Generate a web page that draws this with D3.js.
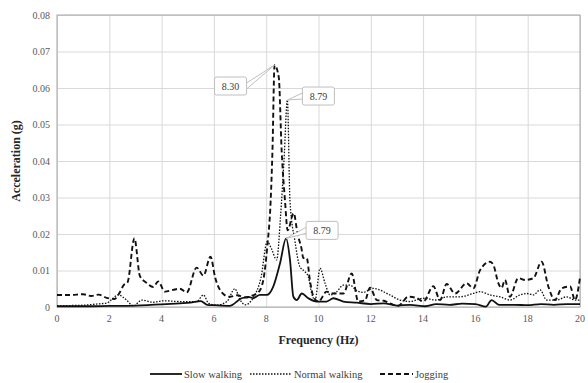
<!DOCTYPE html>
<html>
<head>
<meta charset="utf-8">
<script src="https://cdn.jsdelivr.net/npm/d3@7"></script>
<style>
  body { margin: 0; background: #fff; }
  svg text { font-family: "Liberation Serif", "DejaVu Serif", "Times New Roman", Times, serif; }
  .grid path { display: none; }
  .tick-label { font-size: 10px; fill: #595959; }
</style>
</head>
<body>
<svg id="chart" width="588" height="383"></svg>
<script>
// data
const xTicks = [0, 2, 4, 6, 8, 10, 12, 14, 16, 18, 20];
const yTicks = [0, 0.01, 0.02, 0.03, 0.04, 0.05, 0.06, 0.07, 0.08];
const seriesNames = ['Slow walking', 'Normal walking', 'Jogging'];

const slowFreq = [0, 1, 2, 3, 4, 4.7, 5.1, 5.5, 5.75, 6.0, 6.6, 7.06, 7.32, 7.5, 7.76, 8.02, 8.27, 8.53, 8.76, 8.91, 9.04, 9.17, 9.36, 9.61, 9.93, 10.31, 10.57, 10.95, 11.46, 12.0, 12.5, 13.0, 13.5, 14.1, 14.5, 15.0, 15.5, 16.0, 16.4, 16.62, 16.9, 17.5, 18.0, 18.5, 19.0, 19.5, 20.0];
const slowAcc = [0.0002, 0.0002, 0.0003, 0.0004, 0.0007, 0.0010, 0.0012, 0.0016, 0.0006, 0.0005, 0.0003, 0.0024, 0.0028, 0.0024, 0.0033, 0.0033, 0.0056, 0.0120, 0.0188, 0.0129, 0.0028, 0.0019, 0.0037, 0.0024, 0.0015, 0.0015, 0.0024, 0.0015, 0.0012, 0.0008, 0.0010, 0.0004, 0.0006, 0.0002, 0.0008, 0.0006, 0.0009, 0.0008, 0.0001, 0.0019, 0.0006, 0.0006, 0.0005, 0.0008, 0.0006, 0.0008, 0.0008];

const normalFreq = [0, 0.5, 1.0, 1.5, 1.9, 2.35, 2.66, 2.92, 3.24, 3.68, 4.07, 4.7, 5.34, 5.6, 5.8, 6.1, 6.5, 6.8, 7.0, 7.2, 7.5, 7.8, 8.04, 8.2, 8.4, 8.55, 8.68, 8.81, 8.91, 9.1, 9.29, 9.48, 9.61, 9.74, 9.87, 10.06, 10.25, 10.44, 10.7, 10.95, 11.2, 11.46, 11.7, 12.1, 12.73, 13.12, 13.5, 14.0, 14.52, 14.9, 15.41, 15.92, 16.18, 16.56, 16.94, 17.32, 17.7, 17.96, 18.22, 18.47, 18.73, 19.11, 19.49, 19.81, 20.0];
const normalAcc = [0.0003, 0.0004, 0.0005, 0.0008, 0.0011, 0.0033, 0.0019, 0.0003, 0.0019, 0.0013, 0.0017, 0.0015, 0.0015, 0.0033, 0.0010, 0.0005, 0.0015, 0.0050, 0.0020, 0.0006, 0.0025, 0.0080, 0.0179, 0.0160, 0.0129, 0.0250, 0.0400, 0.0567, 0.0290, 0.0180, 0.0110, 0.0097, 0.0083, 0.0037, 0.0019, 0.0106, 0.0065, 0.0033, 0.0042, 0.0060, 0.0060, 0.0045, 0.0040, 0.0051, 0.0033, 0.0019, 0.0015, 0.0024, 0.0019, 0.0028, 0.0028, 0.0037, 0.0042, 0.0033, 0.0028, 0.0019, 0.0033, 0.0037, 0.0033, 0.0047, 0.0019, 0.0019, 0.0028, 0.0019, 0.0019];

const jogFreq = [0, 0.5, 1.0, 1.3, 1.6, 1.9, 2.2, 2.4, 2.55, 2.7, 2.96, 3.17, 3.43, 3.68, 3.87, 4.13, 4.44, 4.7, 4.96, 5.34, 5.6, 5.87, 6.05, 6.3, 6.6, 6.9, 7.2, 7.5, 7.7, 7.89, 8.04, 8.17, 8.24, 8.32, 8.48, 8.59, 8.72, 8.82, 9.05, 9.2, 9.35, 9.42, 9.55, 9.67, 9.8, 10.0, 10.31, 10.57, 10.95, 11.27, 11.52, 11.78, 11.97, 12.23, 12.5, 12.73, 13.05, 13.43, 13.75, 14.01, 14.39, 14.65, 14.9, 15.22, 15.67, 15.92, 16.18, 16.56, 16.69, 16.88, 17.0, 17.13, 17.32, 17.64, 17.9, 18.22, 18.53, 18.79, 19.04, 19.3, 19.62, 19.81, 20.0];
const jogAcc = [0.0033, 0.0033, 0.0035, 0.0030, 0.0034, 0.0025, 0.0022, 0.0040, 0.0060, 0.0068, 0.0188, 0.0085, 0.0066, 0.0055, 0.0070, 0.0042, 0.0047, 0.0050, 0.0040, 0.0108, 0.0086, 0.0138, 0.0080, 0.0040, 0.0028, 0.0032, 0.0026, 0.0032, 0.0040, 0.0074, 0.0165, 0.0290, 0.0430, 0.0663, 0.0630, 0.0430, 0.0290, 0.0210, 0.0257, 0.0200, 0.0160, 0.0134, 0.0134, 0.0074, 0.0030, 0.0015, 0.0042, 0.0037, 0.0037, 0.0092, 0.0015, 0.0018, 0.0053, 0.0019, 0.0017, 0.0010, 0.0003, 0.0028, 0.0025, 0.0015, 0.0057, 0.0019, 0.0063, 0.0037, 0.0065, 0.0051, 0.0101, 0.0124, 0.0115, 0.0065, 0.0052, 0.0074, 0.0028, 0.0079, 0.0074, 0.0079, 0.0124, 0.0056, 0.0019, 0.0051, 0.0056, 0.0019, 0.0081];

// peak labels: [series index, frequency, label]
const callouts = [
  [2, 8.32, '8.30'],
  [1, 8.81, '8.79'],
  [0, 8.76, '8.79']
];

const WIDTH = 588;
const HEIGHT = 383;
const margin = {top: 15, right: 8, bottom: 76, left: 57},
  width = WIDTH - margin.left - margin.right,
  height = HEIGHT - margin.top - margin.bottom;

const svg = d3.select('#chart');
const g = svg.append('g')
  .attr('transform', `translate(${margin.left},${margin.top})`);

const x = d3.scaleLinear().domain([0, 20]).range([0, width]);
const y = d3.scaleLinear().domain([0, 0.08]).range([height, 0]);

// grid
g.append('g')
  .attr('class', 'grid')
  .call(d3.axisLeft(y).tickValues(yTicks).tickSize(-width).tickFormat(''))
  .call(s => s.selectAll('.tick line').attr('stroke', '#d9d9d9'));
g.append('g')
  .attr('class', 'grid')
  .attr('transform', `translate(0,${height})`)
  .call(d3.axisBottom(x).tickValues(xTicks).tickSize(-height).tickFormat(''))
  .call(s => s.selectAll('.tick line').attr('stroke', '#d9d9d9'));

// plot frame
g.append('rect')
  .attr('width', width)
  .attr('height', height)
  .attr('fill', 'none')
  .attr('stroke', '#a6a6a6')
  .attr('stroke-width', 1);

// tick labels
g.selectAll('.ylab')
  .data(yTicks)
  .join('text')
  .attr('class', 'tick-label')
  .attr('x', -7)
  .attr('y', d => y(d))
  .attr('dy', '0.35em')
  .attr('text-anchor', 'end')
  .text(d => d === 0 ? '0' : d3.format('.2f')(d));

g.selectAll('.xlab')
  .data(xTicks)
  .join('text')
  .attr('class', 'tick-label')
  .attr('x', d => x(d))
  .attr('y', height + 15)
  .attr('text-anchor', 'middle')
  .text(d => d);

// axis titles
svg.append('text')
  .attr('transform', `translate(20,${margin.top + height / 2}) rotate(-90)`)
  .attr('text-anchor', 'middle')
  .style('font-size', '12px')
  .style('font-weight', 'bold')
  .attr('fill', '#262626')
  .text('Acceleration (g)');

svg.append('text')
  .attr('x', margin.left + width / 2)
  .attr('y', 344)
  .attr('text-anchor', 'middle')
  .style('font-size', '12px')
  .style('font-weight', 'bold')
  .attr('fill', '#262626')
  .text('Frequency (Hz)');

// lines
const series = [
  {freq: slowFreq, acc: slowAcc, width: 1.8, dash: null},
  {freq: normalFreq, acc: normalAcc, width: 1.3, dash: '1.5,1.5'},
  {freq: jogFreq, acc: jogAcc, width: 1.9, dash: '5,3'}
];

const line = d3.line()
  .x(d => x(d[0]))
  .y(d => y(d[1]))
  .curve(d3.curveMonotoneX);

series.forEach(s => {
  g.append('path')
    .datum(s.freq.map((f, i) => [f, s.acc[i]]))
    .attr('fill', 'none')
    .attr('stroke', '#111')
    .attr('stroke-width', s.width)
    .attr('stroke-dasharray', s.dash)
    .attr('stroke-linejoin', 'round')
    .attr('d', line);
});

// callouts (box offset from the peak)
const boxOffsets = [[-60, 21], [15, -4], [20, -8]];
callouts.forEach((c, k) => {
  const s = series[c[0]];
  const px = x(c[1]);
  const py = y(s.acc[s.freq.indexOf(c[1])]);
  const bw = 32, bh = 18;
  const bx = px + boxOffsets[k][0];
  const by = py + boxOffsets[k][1] - bh / 2;
  const cg = g.append('g');
  // leader wedge
  const ax = boxOffsets[k][0] < 0 ? bx + bw : bx;
  cg.append('path')
    .attr('d', `M${ax},${by + bh / 2 - 3}L${px},${py}L${ax},${by + bh / 2 + 3}`)
    .attr('fill', '#fff')
    .attr('stroke', '#bfbfbf')
    .attr('stroke-width', 1);
  cg.append('rect')
    .attr('x', bx)
    .attr('y', by)
    .attr('width', bw)
    .attr('height', bh)
    .attr('rx', 2)
    .attr('fill', '#fff')
    .attr('stroke', '#bfbfbf')
    .attr('stroke-width', 1);
  cg.append('text')
    .attr('x', bx + bw / 2)
    .attr('y', by + bh / 2)
    .attr('dy', '0.35em')
    .attr('text-anchor', 'middle')
    .style('font-size', '10px')
    .attr('fill', '#404040')
    .text(c[2]);
});

// legend
const legendItems = [
  {name: seriesNames[0], x: 150, len: 32, s: series[0]},
  {name: seriesNames[1], x: 250, len: 42, s: series[1]},
  {name: seriesNames[2], x: 380, len: 33, s: series[2]}
];
const legend = svg.append('g').attr('transform', 'translate(0,374)');
legendItems.forEach(d => {
  legend.append('line')
    .attr('x1', d.x)
    .attr('x2', d.x + d.len)
    .attr('stroke', '#111')
    .attr('stroke-width', d.s.width)
    .attr('stroke-dasharray', d.s.dash);
  legend.append('text')
    .attr('x', d.x + d.len + 2)
    .attr('dy', '0.35em')
    .style('font-size', '10.5px')
    .attr('fill', '#404040')
    .text(d.name);
});
</script>
</body>
</html>
